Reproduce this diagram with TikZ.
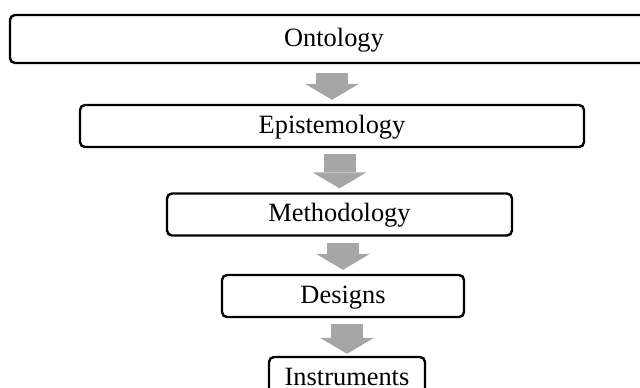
\documentclass[tikz,border=0pt]{standalone}
\usepackage{fontspec}
\setmainfont{Liberation Serif}
\usetikzlibrary{arrows.meta,positioning,calc}
\definecolor{flowgray}{RGB}{166,166,166}

\begin{document}
\begin{tikzpicture}[x=0.5pt, y=-0.5pt]
		\tikzstyle{layer}=[draw=black, line width=1.2pt, rounded corners=2.5pt, fill=white, inner sep=0pt, text height=7pt, text depth=0pt, minimum height=21pt, font=\fontsize{13.2}{16}\selectfont]
		\tikzstyle{flow}=[draw=flowgray, line width=16pt, -{Triangle[width=27pt,length=8pt,line width=0pt]}, shorten <=3pt, shorten >=2pt]
		\useasboundingbox (0,0) rectangle (640,387);
		\node[layer, minimum width=340pt, minimum height=24pt] (A) at (350,39)    {};
		\node at (334,39) [layer, draw=none, fill=none] (Aname) {Ontology};
		\node[layer, minimum width=252pt]                      (B) at (332,126)   {Epistemology};
		\node[layer, minimum width=172.5pt]                    (C) at (339.5,214.5) {Methodology};
		\node[layer, minimum width=121pt]                      (D) at (343,296)   {Designs};
		\node[layer, minimum width=78pt]                       (E) at (347,378)   {Instruments};
		\path
		(A.south -| B.north) edge[flow, shorten <=4.5pt] (B.north)
		(B.south -| C.north) edge[flow] (C.north)
		(C.south -| D.north) edge[flow] (D.north)
		(D.south -| E.north) edge[flow, shorten >=1pt] (E.north);
	\end{tikzpicture}
\end{document}
